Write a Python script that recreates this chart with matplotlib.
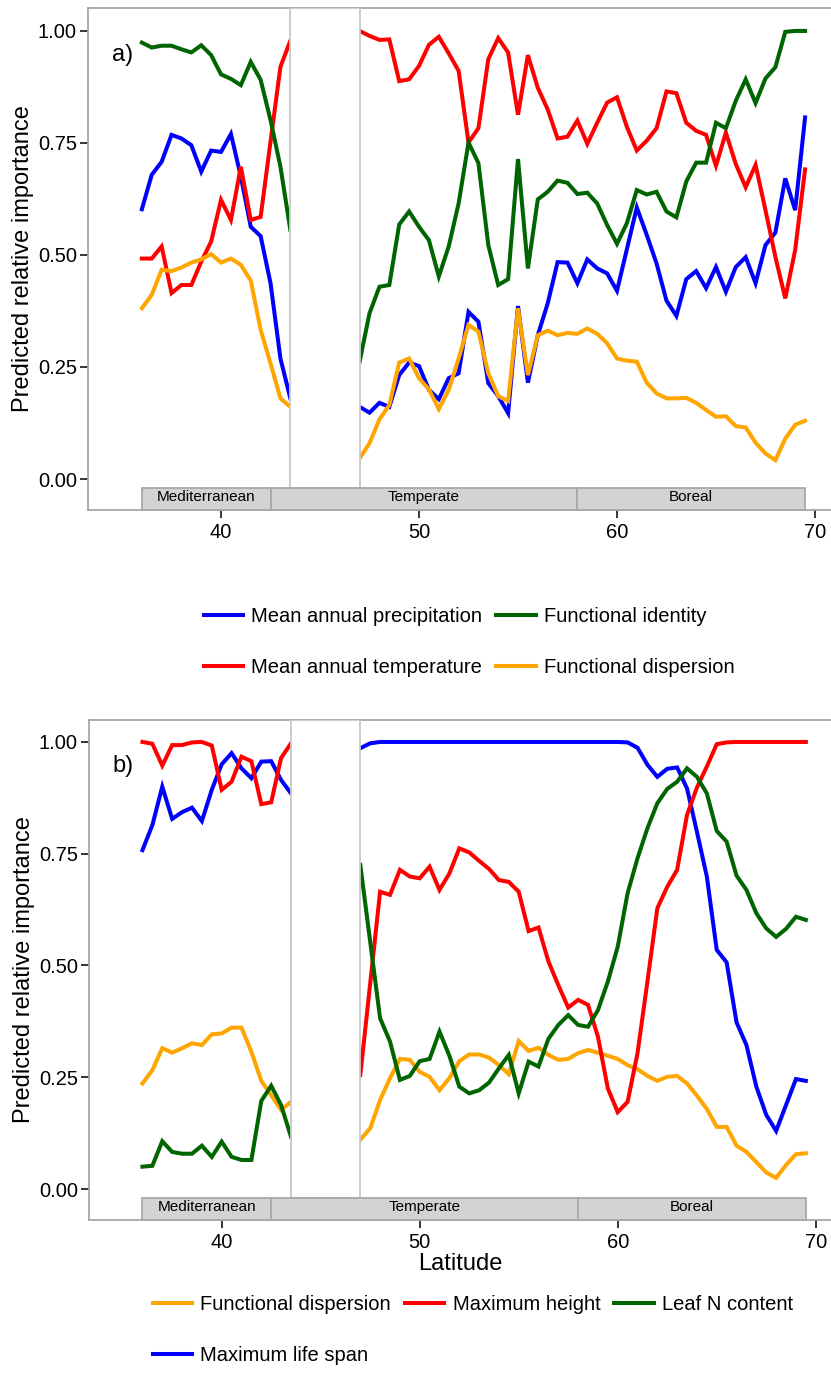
import matplotlib
matplotlib.use("Agg")
import matplotlib.pyplot as plt
from matplotlib.patches import Rectangle
from matplotlib.lines import Line2D

plt.rcParams['font.family'] = ['Liberation Sans', 'DejaVu Sans']

# Latitude grid (south of the gap / north of the gap)
lat_s = [36.0, 36.5, 37.0, 37.5, 38.0, 38.5, 39.0, 39.5, 40.0, 40.5, 41.0, 41.5,
         42.0, 42.5, 43.0, 43.5]
lat_n = [47.0, 47.5, 48.0, 48.5, 49.0, 49.5, 50.0, 50.5, 51.0, 51.5, 52.0, 52.5,
         53.0, 53.5, 54.0, 54.5, 55.0, 55.5, 56.0, 56.5, 57.0, 57.5, 58.0, 58.5,
         59.0, 59.5, 60.0, 60.5, 61.0, 61.5, 62.0, 62.5, 63.0, 63.5, 64.0, 64.5,
         65.0, 65.5, 66.0, 66.5, 67.0, 67.5, 68.0, 68.5, 69.0, 69.5]

# Panel a
a_precip_s = [0.602, 0.679, 0.708, 0.768, 0.760, 0.745, 0.686, 0.733, 0.730, 0.770,
              0.675, 0.563, 0.542, 0.437, 0.269, 0.180]
a_precip_n = [0.161, 0.148, 0.170, 0.161, 0.232, 0.260, 0.252, 0.199, 0.178, 0.225,
              0.236, 0.373, 0.351, 0.214, 0.185, 0.147, 0.386, 0.215, 0.321, 0.392,
              0.484, 0.483, 0.437, 0.490, 0.470, 0.459, 0.420, 0.513, 0.606, 0.545,
              0.481, 0.398, 0.364, 0.446, 0.464, 0.426, 0.473, 0.418, 0.473, 0.495,
              0.437, 0.522, 0.550, 0.671, 0.600, 0.807]
a_temp_s = [0.492, 0.492, 0.519, 0.415, 0.433, 0.433, 0.485, 0.530, 0.623, 0.578,
            0.697, 0.578, 0.585, 0.753, 0.920, 0.978]
a_temp_n = [1.000, 0.989, 0.980, 0.981, 0.888, 0.892, 0.922, 0.969, 0.987, 0.950,
            0.911, 0.751, 0.783, 0.937, 0.984, 0.952, 0.813, 0.946, 0.873, 0.825,
            0.760, 0.764, 0.800, 0.748, 0.795, 0.840, 0.852, 0.786, 0.733, 0.755,
            0.783, 0.865, 0.861, 0.795, 0.777, 0.768, 0.699, 0.773, 0.703, 0.651,
            0.701, 0.600, 0.496, 0.403, 0.511, 0.691]
a_ident_s = [0.974, 0.963, 0.967, 0.967, 0.959, 0.952, 0.968, 0.946, 0.903, 0.893,
             0.879, 0.931, 0.891, 0.801, 0.697, 0.556]
a_ident_n = [0.262, 0.370, 0.429, 0.433, 0.568, 0.597, 0.563, 0.533, 0.452, 0.519,
             0.615, 0.751, 0.705, 0.522, 0.433, 0.446, 0.714, 0.470, 0.624, 0.641,
             0.666, 0.661, 0.636, 0.639, 0.615, 0.567, 0.525, 0.571, 0.645, 0.635,
             0.641, 0.597, 0.584, 0.664, 0.706, 0.706, 0.795, 0.783, 0.844, 0.892,
             0.839, 0.894, 0.919, 0.998, 1.000, 1.000]
a_disp_s = [0.381, 0.411, 0.467, 0.464, 0.472, 0.483, 0.490, 0.502, 0.483, 0.492,
            0.478, 0.443, 0.333, 0.258, 0.180, 0.161]
a_disp_n = [0.046, 0.080, 0.133, 0.165, 0.260, 0.269, 0.225, 0.200, 0.156, 0.199,
            0.269, 0.344, 0.329, 0.236, 0.185, 0.174, 0.381, 0.232, 0.321, 0.331,
            0.321, 0.326, 0.324, 0.336, 0.324, 0.303, 0.269, 0.264, 0.262, 0.215,
            0.191, 0.180, 0.180, 0.181, 0.170, 0.154, 0.139, 0.140, 0.118, 0.115,
            0.081, 0.057, 0.042, 0.090, 0.121, 0.130]

# Panel b
b_disp_s = [0.236, 0.266, 0.315, 0.305, 0.315, 0.326, 0.322, 0.346, 0.348, 0.361,
            0.361, 0.307, 0.242, 0.210, 0.177, 0.195]
b_disp_n = [0.110, 0.136, 0.199, 0.248, 0.291, 0.289, 0.262, 0.251, 0.221, 0.248,
            0.286, 0.301, 0.301, 0.294, 0.277, 0.257, 0.331, 0.309, 0.316, 0.300,
            0.289, 0.291, 0.304, 0.311, 0.305, 0.298, 0.291, 0.277, 0.268, 0.253,
            0.242, 0.251, 0.253, 0.236, 0.209, 0.179, 0.139, 0.139, 0.097, 0.083,
            0.060, 0.037, 0.025, 0.054, 0.078, 0.080]
b_life_s = [0.758, 0.814, 0.900, 0.828, 0.843, 0.853, 0.823, 0.893, 0.950, 0.975,
            0.941, 0.919, 0.956, 0.957, 0.915, 0.885]
b_life_n = [0.986, 0.997, 1.000, 1.000, 1.000, 1.000, 1.000, 1.000, 1.000, 1.000,
            1.000, 1.000, 1.000, 1.000, 1.000, 1.000, 1.000, 1.000, 1.000, 1.000,
            1.000, 1.000, 1.000, 1.000, 1.000, 1.000, 1.000, 0.999, 0.987, 0.949,
            0.922, 0.940, 0.943, 0.896, 0.799, 0.699, 0.535, 0.507, 0.373, 0.322,
            0.229, 0.166, 0.130, 0.188, 0.246, 0.242]
b_height_s = [1.000, 0.996, 0.947, 0.993, 0.993, 0.999, 1.000, 0.992, 0.893, 0.911,
              0.967, 0.957, 0.861, 0.865, 0.964, 0.997]
b_height_n = [0.255, 0.460, 0.665, 0.658, 0.714, 0.699, 0.695, 0.721, 0.669, 0.706,
              0.762, 0.753, 0.734, 0.716, 0.691, 0.687, 0.665, 0.577, 0.585, 0.509,
              0.456, 0.406, 0.423, 0.412, 0.341, 0.225, 0.172, 0.195, 0.304, 0.464,
              0.628, 0.676, 0.714, 0.837, 0.898, 0.945, 0.995, 0.999, 1.000, 1.000,
              1.000, 1.000, 1.000, 1.000, 1.000, 1.000]
b_leafn_s = [0.050, 0.052, 0.107, 0.083, 0.079, 0.079, 0.097, 0.072, 0.106, 0.072,
             0.065, 0.065, 0.197, 0.231, 0.188, 0.117]
b_leafn_n = [0.725, 0.553, 0.382, 0.330, 0.244, 0.253, 0.286, 0.291, 0.352, 0.298,
             0.229, 0.214, 0.221, 0.238, 0.270, 0.300, 0.214, 0.285, 0.274, 0.336,
             0.367, 0.389, 0.367, 0.363, 0.400, 0.464, 0.542, 0.662, 0.740, 0.807,
             0.863, 0.895, 0.911, 0.941, 0.922, 0.885, 0.801, 0.777, 0.701, 0.669,
             0.617, 0.583, 0.564, 0.582, 0.609, 0.602]

# Biome bands and unsampled gap
biome_names = ['Mediterranean', 'Temperate', 'Boreal']
biome_edges = [36.0, 42.5, 58.0, 69.5]
gap = (43.5, 47.0)

BLUE, RED, GREEN, ORANGE = '#0000FF', '#FF0000', '#006400', '#FFA500'


def draw_panel(ax, series, letter, xlim, ylim):
    for south, north, color, label in series:
        ax.plot(lat_s, south, color=color, lw=2.9, solid_joinstyle='miter', zorder=2)
        ax.plot(lat_n, north, color=color, lw=2.9, solid_joinstyle='miter', zorder=2)

    strip_top = -0.019
    # gap box
    ax.add_patch(Rectangle((gap[0], strip_top), gap[1] - gap[0], ylim[1] - strip_top,
                           facecolor='white', edgecolor='#C8C8C8', lw=1.3, zorder=3))
    # biome strip
    for i, name in enumerate(biome_names):
        x0, x1 = biome_edges[i], biome_edges[i + 1]
        ax.add_patch(Rectangle((x0, ylim[0]), x1 - x0, strip_top - ylim[0],
                               facecolor='#D3D3D3', edgecolor='#A8A8A8', lw=1.3,
                               zorder=4, clip_on=False))
        ax.text((x0 + x1) / 2, (ylim[0] + strip_top) / 2 + 0.003, name,
                ha='center', va='center', fontsize=11, zorder=5)

    ax.text(34.5, 0.946, letter, fontsize=17, ha='left', va='center')

    ax.set_xlim(*xlim)
    ax.set_ylim(*ylim)
    ax.set_xticks([40, 50, 60, 70])
    ax.set_yticks([0, 0.25, 0.5, 0.75, 1.0])
    ax.set_yticklabels(['0.00', '0.25', '0.50', '0.75', '1.00'])
    ax.tick_params(labelsize=14.5, length=6, width=1.1, color='black', pad=2)
    ax.tick_params(axis='x', pad=3)
    for side in ['left', 'top', 'bottom']:
        ax.spines[side].set_color('#A0A0A0')
        ax.spines[side].set_linewidth(1.2)
    ax.spines['right'].set_visible(False)
    ax.set_ylabel('Predicted relative importance', fontsize=17, labelpad=3)


fig = plt.figure(figsize=(8.31, 13.95), dpi=100)
ax_a = fig.add_axes([0.1059, 0.6344, 0.8941, 0.3599])
ax_b = fig.add_axes([0.1071, 0.1254, 0.8929, 0.3585])

series_a = [
    (a_precip_s, a_precip_n, BLUE, 'Mean annual precipitation'),
    (a_temp_s, a_temp_n, RED, 'Mean annual temperature'),
    (a_ident_s, a_ident_n, GREEN, 'Functional identity'),
    (a_disp_s, a_disp_n, ORANGE, 'Functional dispersion'),
]
series_b = [
    (b_disp_s, b_disp_n, ORANGE, 'Functional dispersion'),
    (b_life_s, b_life_n, BLUE, 'Maximum life span'),
    (b_height_s, b_height_n, RED, 'Maximum height'),
    (b_leafn_s, b_leafn_n, GREEN, 'Leaf N content'),
]

draw_panel(ax_a, series_a, 'a)', (33.28, 70.81), (-0.0692, 1.0513))
draw_panel(ax_b, series_b, 'b)', (33.30, 70.77), (-0.0694, 1.0492))
ax_b.set_xlabel('Latitude', fontsize=17, labelpad=1)

legend_kw = dict(loc='center', frameon=False, fontsize=14.5, handlelength=1.95,
                 handletextpad=0.4, columnspacing=0.7, labelspacing=1.55)
handles_a = [Line2D([], [], color=c, lw=2.9) for _, _, c, _ in series_a]
fig.legend(handles_a, [s[3] for s in series_a], ncol=2,
           bbox_to_anchor=(469 / 831, 1 - 642 / 1395), **legend_kw)
handles_b = [Line2D([], [], color=c, lw=2.9) for _, _, c, _ in series_b]
fig.legend(handles_b, [s[3] for s in series_b], ncol=3,
           bbox_to_anchor=(473 / 831, 1 - 1330 / 1395), **legend_kw)

fig.savefig('out.png', dpi=100)
